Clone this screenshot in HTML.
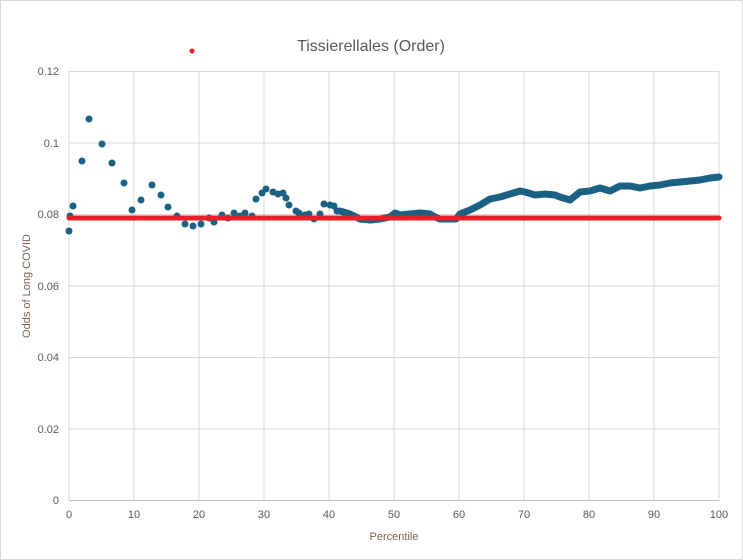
<!DOCTYPE html>
<html><head><meta charset="utf-8"><style>
html,body{margin:0;padding:0;background:#fff}
svg{display:block}
text{font-family:"Liberation Sans",sans-serif}
</style></head><body>
<svg width="743" height="560" viewBox="0 0 743 560" xmlns="http://www.w3.org/2000/svg">
<rect x="0.5" y="0.5" width="742" height="559" fill="#fff" stroke="#d9d9d9"/>
<g stroke="#d9d9d9" stroke-width="1">
<line x1="69" y1="71.5" x2="719" y2="71.5"/>
<line x1="69" y1="143" x2="719" y2="143"/>
<line x1="69" y1="214.5" x2="719" y2="214.5"/>
<line x1="69" y1="286" x2="719" y2="286"/>
<line x1="69" y1="357.5" x2="719" y2="357.5"/>
<line x1="69" y1="429" x2="719" y2="429"/>
<line x1="134" y1="71" x2="134" y2="500"/>
<line x1="199" y1="71" x2="199" y2="500"/>
<line x1="264" y1="71" x2="264" y2="500"/>
<line x1="329" y1="71" x2="329" y2="500"/>
<line x1="394" y1="71" x2="394" y2="500"/>
<line x1="459" y1="71" x2="459" y2="500"/>
<line x1="524" y1="71" x2="524" y2="500"/>
<line x1="589" y1="71" x2="589" y2="500"/>
<line x1="654" y1="71" x2="654" y2="500"/>
<line x1="719" y1="71" x2="719" y2="500"/>
<line x1="69" y1="71" x2="69" y2="500"/>
</g>
<line x1="69" y1="500.5" x2="719" y2="500.5" stroke="#bfbfbf"/>
<text x="371" y="51" font-size="16" fill="#595959" text-anchor="middle">Tissierellales (Order)</text>
<g font-size="11" fill="#595959" text-anchor="end">
<text x="59" y="75">0.12</text><text x="59" y="147">0.1</text><text x="59" y="218">0.08</text>
<text x="59" y="290">0.06</text><text x="59" y="361">0.04</text><text x="59" y="433">0.02</text><text x="59" y="504">0</text>
</g>
<g font-size="11" fill="#595959" text-anchor="middle">
<text x="69" y="518">0</text><text x="134" y="518">10</text><text x="199" y="518">20</text><text x="264" y="518">30</text>
<text x="329" y="518">40</text><text x="394" y="518">50</text><text x="459" y="518">60</text><text x="524" y="518">70</text>
<text x="589" y="518">80</text><text x="654" y="518">90</text><text x="719" y="518">100</text>
</g>
<text x="394" y="540" font-size="11" fill="#7f6050" text-anchor="middle">Percentile</text>
<text transform="translate(30,286) rotate(-90)" font-size="11" fill="#7f6050" text-anchor="middle">Odds of Long COVID</text>
<polyline fill="none" stroke="#1b6184" stroke-width="7" stroke-linejoin="round" stroke-linecap="round" points="340,211 350,214 360,219 370,220 380,219 390,217 395,213 400,215 410,214 420,213 430,214 435,217 440,219 450,219 456,219 460,214 470,210 480,205 490,199 500,197 510,194 520,191 525,192 535,195 545,194 555,195 560,197 570,200 580,192 590,191 600,188 610,191 620,186 630,186 640,188 650,186 660,185 670,183 680,182 690,181 700,180 710,178 719,177"/>
<g fill="#1b6184">
<circle cx="69" cy="231" r="3.5"/><circle cx="70" cy="216" r="3.5"/><circle cx="73" cy="206" r="3.5"/>
<circle cx="82" cy="161" r="3.5"/><circle cx="89" cy="119" r="3.5"/><circle cx="102" cy="144" r="3.5"/>
<circle cx="112" cy="163" r="3.5"/><circle cx="124" cy="183" r="3.5"/><circle cx="132" cy="210" r="3.5"/>
<circle cx="141" cy="200" r="3.5"/><circle cx="152" cy="185" r="3.5"/><circle cx="161" cy="195" r="3.5"/>
<circle cx="168" cy="207" r="3.5"/><circle cx="177" cy="216" r="3.5"/><circle cx="185" cy="224" r="3.5"/>
<circle cx="193" cy="226" r="3.5"/><circle cx="201" cy="224" r="3.5"/><circle cx="209" cy="218" r="3.5"/>
<circle cx="214" cy="222" r="3.5"/><circle cx="222" cy="215" r="3.5"/><circle cx="228" cy="218" r="3.5"/>
<circle cx="234" cy="213" r="3.5"/><circle cx="240" cy="216" r="3.5"/><circle cx="245" cy="213" r="3.5"/>
<circle cx="252" cy="216" r="3.5"/><circle cx="256" cy="199" r="3.5"/><circle cx="262" cy="193" r="3.5"/>
<circle cx="266" cy="189" r="3.5"/><circle cx="273" cy="192" r="3.5"/><circle cx="278" cy="194" r="3.5"/>
<circle cx="283" cy="193" r="3.5"/><circle cx="286" cy="198" r="3.5"/><circle cx="289" cy="205" r="3.5"/>
<circle cx="296" cy="211" r="3.5"/><circle cx="299" cy="213" r="3.5"/><circle cx="305" cy="215" r="3.5"/>
<circle cx="309" cy="214" r="3.5"/><circle cx="314" cy="219" r="3.5"/><circle cx="320" cy="214" r="3.5"/>
<circle cx="324" cy="204" r="3.5"/><circle cx="330" cy="205" r="3.5"/><circle cx="334" cy="206" r="3.5"/>
<circle cx="337" cy="211" r="3.5"/>
</g>
<line x1="69" y1="218" x2="719" y2="218" stroke="#e8202a" stroke-width="5" stroke-linecap="round"/>
<circle cx="192" cy="51" r="2.5" fill="#e8202a"/>
</svg>
</body></html>
